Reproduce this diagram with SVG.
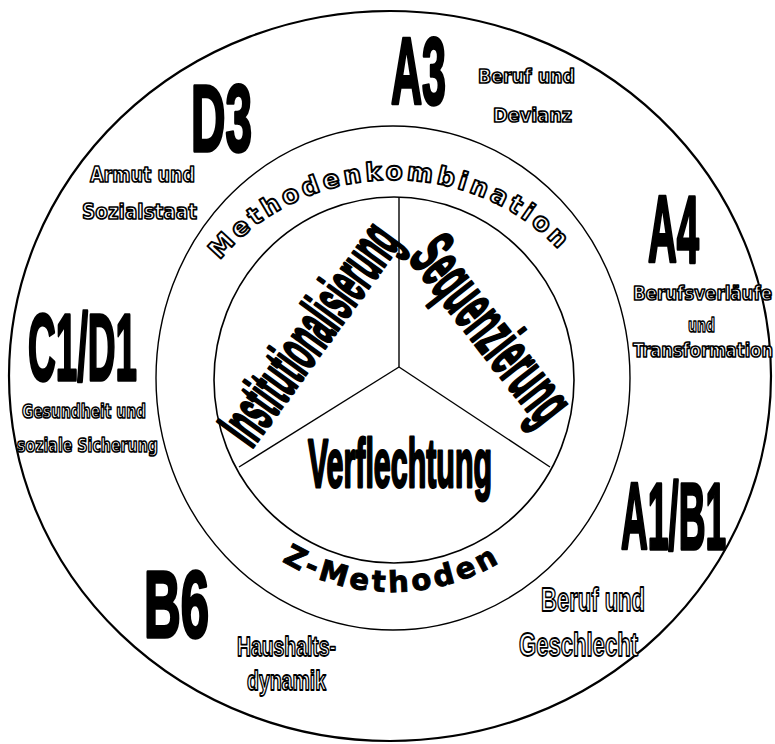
<svg xmlns="http://www.w3.org/2000/svg" width="775" height="744" viewBox="0 0 775 744">
<style>
.ring{fill:none;stroke:#000}
.spoke{stroke:#000;stroke-width:1.4;fill:none}
.big{font-family:"Liberation Sans",Arial,sans-serif;font-weight:bold;fill:#000;stroke:#000;stroke-width:3.5;stroke-linejoin:round}
.core{font-family:"Liberation Sans",Arial,sans-serif;font-weight:bold;fill:#000;stroke:#000;stroke-width:2.8;stroke-linejoin:round}
.ol{font-family:"DejaVu Sans",Verdana,sans-serif;font-weight:bold;fill:#fff;stroke:#000;stroke-width:1.7;stroke-linejoin:round;text-anchor:middle}
.olc{font-family:"Liberation Sans",Arial,sans-serif;font-weight:bold;fill:#fff;stroke:#000;stroke-width:1.8;stroke-linejoin:round;text-anchor:middle}
.arc1{font-family:"DejaVu Sans",Verdana,sans-serif;font-weight:bold;font-size:25px;fill:#fff;stroke:#000;stroke-width:1.9;stroke-linejoin:round;letter-spacing:3.6px}
.arc2{font-family:"DejaVu Sans",Verdana,sans-serif;font-weight:bold;font-size:29px;fill:#000;stroke:#000;stroke-width:1;letter-spacing:3.5px}
</style>
<defs>
<path id="topArc" d="M 183.4 329.7 A 218 202 0 0 1 604.6 329.7"/>
<path id="botArc" d="M 192.8 452.5 A 212 212 0 0 0 591.2 452.5"/>
</defs>
<rect width="775" height="744" fill="#fff"/>
<g id="rings">
<ellipse class="ring" cx="390" cy="376" rx="381" ry="365" stroke-width="2.2"/>
<ellipse class="ring" cx="393" cy="378" rx="237" ry="252" stroke-width="1.4"/>
<ellipse class="ring" cx="394" cy="380" rx="180" ry="183" stroke-width="1.6"/>
</g>
<g id="connectors">
<line class="spoke" x1="399" y1="367" x2="399" y2="197"/>
<line class="spoke" x1="399" y1="367" x2="239" y2="467"/>
<line class="spoke" x1="399" y1="367" x2="550" y2="467"/>
</g>
<g id="ring-labels">
<text class="arc1"><textPath href="#topArc" startOffset="49%" text-anchor="middle">Methodenkombination</textPath></text>
<text class="arc2"><textPath href="#botArc" startOffset="50%" text-anchor="middle">Z-Methoden</textPath></text>
</g>
<g id="institutionalisierung">
<text class="core" transform="translate(313 336) rotate(-54)" x="-128" y="17" font-size="64" textLength="256" lengthAdjust="spacingAndGlyphs">Institutionalisierung</text>
</g>
<g id="sequenzierung">
<text class="core" transform="translate(488 332) rotate(52)" x="-108" y="18" font-size="68" textLength="216" lengthAdjust="spacingAndGlyphs">Sequenzierung</text>
</g>
<g id="verflechtung">
<text class="core" x="308" y="487" font-size="69" textLength="184" lengthAdjust="spacingAndGlyphs">Verflechtung</text>
</g>
<g id="A3">
<text class="big" x="391" y="104" font-size="94" textLength="55" lengthAdjust="spacingAndGlyphs">A3</text>
<text class="ol" x="526.5" y="83" font-size="19" textLength="97" lengthAdjust="spacingAndGlyphs">Beruf und</text>
<text class="ol" x="532.5" y="122" font-size="19" textLength="79" lengthAdjust="spacingAndGlyphs">Devianz</text>
</g>
<g id="D3">
<text class="big" x="191" y="151" font-size="94" textLength="61" lengthAdjust="spacingAndGlyphs">D3</text>
<text class="ol" x="142.5" y="182" font-size="21" textLength="105" lengthAdjust="spacingAndGlyphs">Armut und</text>
<text class="ol" x="139.5" y="219" font-size="21" textLength="115" lengthAdjust="spacingAndGlyphs">Sozialstaat</text>
</g>
<g id="A4">
<text class="big" x="648" y="262" font-size="94" textLength="51" lengthAdjust="spacingAndGlyphs">A4</text>
<text class="ol" x="702.5" y="300" font-size="19" textLength="139" lengthAdjust="spacingAndGlyphs">Berufsverläufe</text>
<text class="ol" x="701.5" y="332" font-size="19" textLength="27" lengthAdjust="spacingAndGlyphs">und</text>
<text class="ol" x="703" y="357" font-size="19" textLength="140" lengthAdjust="spacingAndGlyphs">Transformation</text>
</g>
<g id="C1D1">
<text class="big" x="28" y="380" font-size="94" textLength="109" lengthAdjust="spacingAndGlyphs">C1/D1</text>
<text class="ol" x="84" y="418" font-size="19" textLength="124" lengthAdjust="spacingAndGlyphs">Gesundheit und</text>
<text class="ol" x="87.5" y="452" font-size="19" textLength="141" lengthAdjust="spacingAndGlyphs">soziale Sicherung</text>
</g>
<g id="A1B1">
<text class="big" x="621" y="549" font-size="94" textLength="105" lengthAdjust="spacingAndGlyphs">A1/B1</text>
<text class="olc" x="593" y="611" font-size="33" textLength="104" lengthAdjust="spacingAndGlyphs">Beruf und</text>
<text class="olc" x="578.5" y="656" font-size="33" textLength="119" lengthAdjust="spacingAndGlyphs">Geschlecht</text>
</g>
<g id="B6">
<text class="big" x="144" y="637" font-size="94" textLength="65" lengthAdjust="spacingAndGlyphs">B6</text>
<text class="olc" x="286.5" y="656" font-size="28" textLength="99" lengthAdjust="spacingAndGlyphs">Haushalts-</text>
<text class="olc" x="286.5" y="690" font-size="28" textLength="79" lengthAdjust="spacingAndGlyphs">dynamik</text>
</g>
</svg>
